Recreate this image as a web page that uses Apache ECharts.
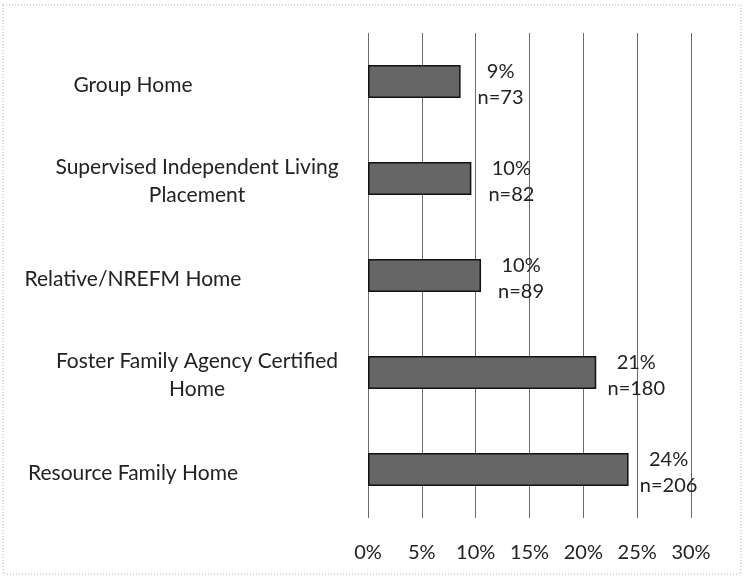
<!DOCTYPE html>
<html>
<head>
<meta charset="utf-8">
<script src="https://cdn.jsdelivr.net/npm/echarts@6/dist/echarts.min.js"></script>
<style>
  html, body { margin: 0; padding: 0; background: #fff; }
  #main { width: 748px; height: 582px; }
</style>
</head>
<body>
<div id="main"></div>
<script>
// top to bottom as in the picture
const categories = [
  'Group Home',
  'Supervised Independent Living\nPlacement',
  'Relative/NREFM Home',
  'Foster Family Agency Certified\nHome',
  'Resource Family Home'
];
const shares = [8.6, 9.6, 10.5, 21.2, 24.2];
const pctLabels = ['9%', '10%', '10%', '21%', '24%'];
const counts = [73, 82, 89, 180, 206];
const xTicks = [0, 5, 10, 15, 20, 25, 30];

const font = 'Lato, "Open Sans", sans-serif';
const chart = echarts.init(document.getElementById('main'));

// single-line names sit further left than the wrapped ones
function catLabel(v) {
  const lines = v.split('\n');
  if (lines.length === 1) return '{s|' + v + '}';
  return '{f|' + lines[0] + '}\n{t|' + lines[1] + '}';
}

const base = { fontFamily: font, fontSize: 21, color: '#222', lineHeight: 30 };

chart.setOption({
  backgroundColor: '#ffffff',
  animation: false,
  graphic: [{
    type: 'rect',
    shape: { x: 3, y: 5, width: 738, height: 569 },
    style: { fill: 'none', stroke: '#b0b0b0', lineWidth: 1, lineDash: [1, 2] },
    silent: true
  }],
  grid: { left: 368, right: 57, top: 33, bottom: 64, containLabel: false },
  xAxis: {
    type: 'value',
    min: xTicks[0],
    max: xTicks[xTicks.length - 1],
    interval: 5,
    axisLine: { show: false },
    axisTick: { show: false },
    splitLine: { show: true, lineStyle: { color: '#6a6a6a', width: 1 } },
    axisLabel: {
      margin: 25,
      color: '#222',
      fontFamily: font,
      fontSize: 20,
      formatter: v => v + '%'
    }
  },
  yAxis: {
    type: 'category',
    inverse: true,
    data: categories,
    axisLine: { show: false },
    axisTick: { show: false },
    axisLabel: {
      margin: 171,
      align: 'center',
      color: '#222',
      fontFamily: font,
      fontSize: 21,
      formatter: catLabel,
      rich: {
        s: Object.assign({}, base, { padding: [8, 128, 0, 0] }),
        f: Object.assign({}, base, { padding: [8, 0, 0, 0] }),
        t: Object.assign({}, base, { padding: [4, 0, 0, 0] })
      }
    }
  },
  series: [{
    type: 'bar',
    data: shares,
    barWidth: 33,
    itemStyle: { color: '#666666', borderColor: '#111', borderWidth: 1.5 },
    label: {
      show: true,
      position: 'right',
      distance: 12,
      offset: [0, 3],
      formatter: p => '{a|' + pctLabels[p.dataIndex] + '}\n{a|n=' + counts[p.dataIndex] + '}',
      rich: {
        a: { width: 56, align: 'center', fontFamily: font, fontSize: 20, lineHeight: 26, color: '#222' }
      }
    }
  }]
});
</script>
</body>
</html>
